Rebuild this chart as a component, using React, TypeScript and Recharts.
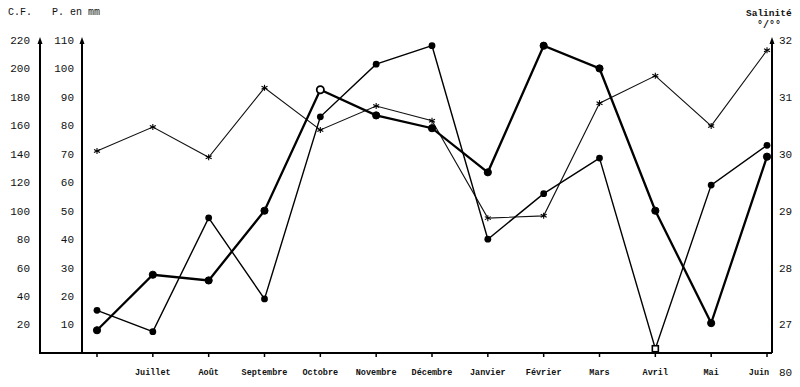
import React from 'react';
import { LineChart, Line, XAxis, YAxis } from 'recharts';

// mois (le premier point, juin 79, n'a pas d'étiquette)
const mois = ['', 'Juillet', 'Août', 'Septembre', 'Octobre', 'Novembre', 'Décembre', 'Janvier', 'Février', 'Mars', 'Avril', 'Mai', 'Juin'];
// C.F. (trait épais)
const cf = [16, 55, 51, 100, 185, 167, 158, 127, 216, 200, 100, 21, 138];
// précipitations en mm (trait fin)
const pluie = [15, 7.5, 47.5, 19, 83, 101.5, 108, 40, 56, 68.5, 1.5, 59, 73];
// salinité en pour mille (étoiles)
const salinite = [30.05, 30.47, 29.94, 31.16, 30.42, 30.84, 30.58, 28.87, 28.91, 30.89, 31.37, 30.49, 31.82];

const cfTicks = [20, 40, 60, 80, 100, 120, 140, 160, 180, 200, 220];
const pTicks = [10, 20, 30, 40, 50, 60, 70, 80, 90, 100, 110];
const salTicks = [27, 28, 29, 30, 31, 32];

const data = mois.map((m, i) => ({ mois: m, cf: cf[i], pluie: pluie[i], sal: salinite[i] }));

const FONT = '"Liberation Mono", "DejaVu Sans Mono", monospace';
const tickStyle = { fill: '#111', fontSize: 11, fontFamily: FONT };

const CfDot = (props: any) => {
  const { cx, cy, index } = props;
  const open = index === 4;
  return <circle key={index} cx={cx} cy={cy} r={3.6} fill={open ? '#fff' : '#000'} stroke="#000" strokeWidth={open ? 1.8 : 1} />;
};

const PluieDot = (props: any) => {
  const { cx, cy, index } = props;
  if (index === 10) {
    return <rect key={index} x={cx - 3} y={cy - 3} width={6} height={6} fill="#fff" stroke="#000" strokeWidth={1.6} />;
  }
  return <circle key={index} cx={cx} cy={cy} r={3.4} fill="#000" />;
};

const Star = (props: any) => {
  const { cx, cy, index } = props;
  const s = 3;
  return (
    <g key={index} stroke="#000" strokeWidth={1.1}>
      <line x1={cx} y1={cy - s} x2={cx} y2={cy + s} />
      <line x1={cx - s} y1={cy - s * 0.5} x2={cx + s} y2={cy + s * 0.5} />
      <line x1={cx - s} y1={cy + s * 0.5} x2={cx + s} y2={cy - s * 0.5} />
    </g>
  );
};

const MoisTick = (props: any) => {
  const { x, y, payload, index } = props;
  const last = index === mois.length - 1;
  return (
    <text x={last ? x - 8 : x} y={y} dy="0.71em" textAnchor="middle" fill="#111" fontSize={8.5} fontWeight="bold" fontFamily={FONT}>
      {payload.value}
    </text>
  );
};

const txt = (left: number, top: number, s: string, extra: any = {}) => (
  <div style={{ position: 'absolute', left, top, fontFamily: FONT, fontSize: 10, color: '#111', whiteSpace: 'nowrap', lineHeight: 1, ...extra }}>{s}</div>
);

export default function App() {
  return (
    <div style={{ position: 'relative', width: 800, height: 387, margin: -8, background: '#fff' }}>
      <LineChart width={800} height={387} data={data} margin={{ top: 40, right: 0, bottom: 4, left: 0 }}>
        <XAxis
          dataKey="mois"
          interval={0}
          padding={{ left: 15, right: 5 }}
          axisLine={{ stroke: '#000', strokeWidth: 2 }}
          tickLine={{ stroke: '#000', strokeWidth: 1.5 }}
          tickSize={4}
          tickMargin={12}
          height={30}
          tick={<MoisTick />}
        />
        <YAxis
          yAxisId={0}
          orientation="left"
          width={42}
          domain={[0, 110]}
          ticks={pTicks}
          interval={0}
          tickSize={0}
          tickMargin={8}
          tickLine={false}
          axisLine={{ stroke: '#000', strokeWidth: 2 }}
          tick={tickStyle}
        />
        <YAxis
          yAxisId={1}
          orientation="left"
          width={40}
          domain={[0, 220]}
          ticks={cfTicks}
          interval={0}
          tickSize={0}
          tickMargin={10}
          tickLine={false}
          axisLine={{ stroke: '#000', strokeWidth: 2 }}
          tick={tickStyle}
        />
        <YAxis
          yAxisId="sal"
          orientation="right"
          width={28}
          domain={[26.5, 32]}
          ticks={salTicks}
          interval={0}
          tickSize={0}
          tickMargin={7}
          tickLine={false}
          axisLine={{ stroke: '#000', strokeWidth: 2 }}
          tick={tickStyle}
        />
        <Line yAxisId="sal" type="linear" dataKey="sal" stroke="#111" strokeWidth={1.1} dot={Star} isAnimationActive={false} />
        <Line yAxisId={0} type="linear" dataKey="pluie" stroke="#000" strokeWidth={1.4} dot={PluieDot} isAnimationActive={false} />
        <Line yAxisId={1} type="linear" dataKey="cf" stroke="#000" strokeWidth={2.3} dot={CfDot} isAnimationActive={false} />
      </LineChart>
      <svg width={800} height={387} style={{ position: 'absolute', left: 0, top: 0, pointerEvents: 'none' }}>
        <line x1={39} y1={353} x2={83} y2={353} stroke="#000" strokeWidth={2} />
        {[40, 82, 772].map((x) => (
          <path key={x} d={`M${x - 2.5},44 L${x},37 L${x + 2.5},44 Z`} fill="#000" />
        ))}
      </svg>
      {txt(8, 8, 'C.F.')}
      {txt(52, 8, 'P. en mm')}
      {txt(746, 9, 'Salinité', { fontWeight: 'bold', fontSize: 9.5 })}
      {txt(757, 21, '°/°°', { fontWeight: 'bold' })}
      {txt(779, 368, '80', { fontSize: 11 })}
    </div>
  );
}
